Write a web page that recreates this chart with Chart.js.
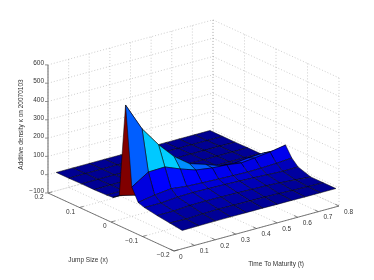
<!DOCTYPE html>
<html>
<head>
<meta charset="utf-8">
<style>
    html, body { margin: 0; padding: 0; background: #fff; }
    canvas { display: block; }
</style>
<script src="https://cdn.jsdelivr.net/npm/chart.js@4/dist/chart.umd.min.js"></script>
</head>
<body>
<canvas id="surfaceChart" width="374" height="280"></canvas>
<script>
// grid
const maturities = [0.04, 0.12, 0.2, 0.275, 0.35, 0.43, 0.5, 0.57, 0.635, 0.71, 0.785];
const jumpSizes = [-0.2, -0.16, -0.12, -0.08, -0.06, -0.04, -0.02, 0, 0.02, 0.04, 0.08, 0.12, 0.16, 0.2];

// density per jump size, one value per maturity
const densityM20 = [0, 1, 2, 2, 2, 2, 1, 1, 0, 0, 0];
const densityM16 = [9, 6, 10, 12, 11, 10, 9, 7, 4, 2, 0];
const densityM12 = [18, 18, 24, 25, 24, 22, 20, 18, 14, 7, 0];
const densityM08 = [30, 30, 38, 40, 38, 36, 33, 30, 26, 22, 23];
const densityM06 = [42, 58, 68, 58, 54, 50, 47, 45, 46, 50, 56];
const densityM04 = [110, 168, 171, 137, 108, 95, 90, 79, 86, 96, 111];
const densityM02 = [543, 388, 277, 189, 127, 98, 69, 62, 71, 75, 70];
const densityP00 = [33, 10, 8, 8, 8, 6, 6, 5, 5, 5, 4];
const densityP02 = [6, 5, 5, 5, 5, 4, 4, 3, 3, 3, 2];
const densityP04 = [3, 3, 3, 3, 3, 2, 2, 2, 2, 2, 1];
const densityP08 = [1, 2, 2, 2, 2, 2, 2, 1, 1, 1, 1];
const densityP12 = [1, 1, 1, 1, 1, 1, 1, 1, 1, 1, 0];
const densityP16 = [0, 1, 1, 1, 1, 1, 1, 0, 0, 0, 0];
const densityP20 = [0, 0, 0, 0, 0, 0, 0, 0, 0, 0, 0];
const densityRows = [densityM20, densityM16, densityM12, densityM08, densityM06, densityM04, densityM02,
    densityP00, densityP02, densityP04, densityP08, densityP12, densityP16, densityP20];

const maturityTicks = [0, 0.1, 0.2, 0.3, 0.4, 0.5, 0.6, 0.7, 0.8];
const jumpTicks = [-0.2, -0.1, 0, 0.1, 0.2];
const densityTicks = [-100, 0, 100, 200, 300, 400, 500, 600];

const colorMin = -10;
const colorMax = 543;
const tMax = 0.8, xMin = -0.2, xMax = 0.2, zMin = -100, zMax = 600;

const GRID = 'rgba(70,70,70,0.45)';
const AXIS = '#444';

// fixed 3D view, gives values for the hidden x / y scales
function project(t, x, z) {
    const u = t / tMax;
    const v = (x - xMin) / (xMax - xMin);
    return {
        x: 174 + 165 * u - 126 * v,
        y: 251 - 45 * u - 58 * v - (z - zMin) * 0.183
    };
}

// MATLAB jet
function jet(z) {
    const p = Math.min(1, Math.max(0, (z - colorMin) / (colorMax - colorMin)));
    const ch = d => Math.round(255 * Math.min(1, Math.max(0, 1.5 - Math.abs(4 * p - d))));
    return `rgb(${ch(3)},${ch(2)},${ch(1)})`;
}

function lineSet(points, color, width, dash) {
    return {
        data: points,
        showLine: true,
        fill: false,
        borderColor: color,
        borderWidth: width,
        borderDash: dash || [],
        pointRadius: 0,
        tension: 0
    };
}

const backLayer = [];
densityTicks.forEach(function (z) {
    backLayer.push(lineSet([project(0, xMax, z), project(tMax, xMax, z), project(tMax, xMin, z)], GRID, 0.6, [1, 2]));
});
maturityTicks.forEach(function (t) {
    backLayer.push(lineSet([project(t, xMax, zMax), project(t, xMax, zMin), project(t, xMin, zMin)], GRID, 0.6, [1, 2]));
});
jumpTicks.forEach(function (x) {
    backLayer.push(lineSet([project(tMax, x, zMax), project(tMax, x, zMin), project(0, x, zMin)], GRID, 0.6, [1, 2]));
});

const axisLayer = [
    lineSet([project(0, xMax, zMin), project(0, xMax, zMax)], '#888', 1.3),
    lineSet([project(0, xMax, zMin), project(0, xMin, zMin), project(tMax, xMin, zMin)], AXIS, 0.7)
];
densityTicks.forEach(function (z) {
    const p = project(0, xMax, z);
    axisLayer.push(lineSet([p, { x: p.x - 3, y: p.y }], AXIS, 0.6));
});
jumpTicks.forEach(function (x) {
    axisLayer.push(lineSet([project(0, x, zMin), project(0.02, x, zMin)], AXIS, 0.6));
});
maturityTicks.forEach(function (t) {
    axisLayer.push(lineSet([project(t, xMin, zMin), project(t, xMin + 0.012, zMin)], AXIS, 0.6));
});

// nearest cell first: chart.js paints dataset 0 last
const cellLayer = [];
for (let i = 0; i < maturities.length - 1; i++) {
    for (let j = 0; j < jumpSizes.length - 1; j++) {
        const corner = (a, b) => project(maturities[a], jumpSizes[b], densityRows[b][a]);
        cellLayer.push({
            data: [corner(i, j), corner(i + 1, j), corner(i + 1, j + 1), corner(i, j + 1), corner(i, j)],
            showLine: true,
            fill: 'shape',
            backgroundColor: jet(densityRows[j][i]),
            borderColor: 'rgba(0,0,0,0.85)',
            borderWidth: 0.6,
            pointRadius: 0,
            tension: 0
        });
    }
}

// text drawn last, anchored on the projected ticks
const labelsPlugin = {
    id: 'surfaceLabels',
    afterDraw(chart) {
        const ctx = chart.ctx;
        const put = function (text, px, py, align) {
            ctx.textAlign = align;
            ctx.fillText(text, chart.scales.x.getPixelForValue(px), chart.scales.y.getPixelForValue(py));
        };
        const fmt = v => String(v).replace('-', '\u2212');
        ctx.save();
        ctx.font = '6.5px "Liberation Sans"';
        ctx.fillStyle = '#333';
        ctx.textBaseline = 'middle';
        densityTicks.forEach(function (z) {
            const p = project(0, xMax, z);
            put(fmt(z), p.x - 4, p.y - 1.5, 'right');
        });
        jumpTicks.forEach(function (x) {
            const p = project(0, x, zMin);
            put(fmt(x), p.x - 4.5, p.y + 4.5, 'right');
        });
        maturityTicks.forEach(function (t) {
            const p = project(t, xMin, zMin);
            put(fmt(t), p.x + 5, p.y + 6, 'left');
        });
        put('Jump Size (x)', 88, 260, 'center');
        put('Time To Maturity (t)', 276, 264, 'center');
        ctx.translate(chart.scales.x.getPixelForValue(21), chart.scales.y.getPixelForValue(124.5));
        ctx.rotate(-Math.PI / 2);
        ctx.textAlign = 'center';
        ctx.fillText('Additive density \u03BA on 20070103', 0, 0);
        ctx.restore();
    }
};

new Chart(document.getElementById('surfaceChart').getContext('2d'), {
    type: 'scatter',
    data: { datasets: [...cellLayer, ...axisLayer, ...backLayer] },
    options: {
        responsive: false,
        animation: false,
        layout: { padding: 0 },
        clip: false,
        plugins: { legend: { display: false }, tooltip: { enabled: false } },
        scales: {
            x: { type: 'linear', display: false, min: 0, max: 374 },
            y: { type: 'linear', display: false, min: 0, max: 280, reverse: true }
        }
    },
    plugins: [labelsPlugin]
});
</script>
</body>
</html>
